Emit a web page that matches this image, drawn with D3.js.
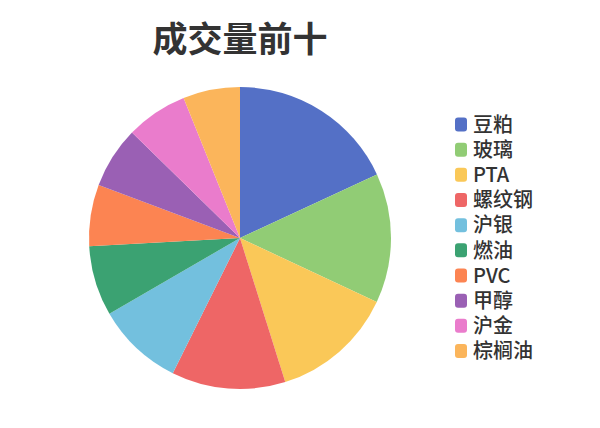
<!DOCTYPE html>
<html>
<head>
<meta charset="utf-8">
<script src="https://cdn.jsdelivr.net/npm/d3@7"></script>
<style>
  body { margin: 0; background: #fff; }
  svg { display: block; font-family: "Noto Sans CJK SC", "Noto Sans", sans-serif; }
</style>
</head>
<body>
<div class="canvas"></div>
<script>
// what to show
var categories = ['豆粕', '玻璃', 'PTA', '螺纹钢', '沪银', '燃油', 'PVC', '甲醇', '沪金', '棕榈油'],
    values = [181, 139, 132, 122, 93, 75, 66, 66, 66, 61],
    colors = ['#5470c6', '#91cc75', '#fac858', '#ee6666', '#73c0de',
              '#3ba272', '#fc8452', '#9a60b4', '#ea7ccc', '#fbb55b'],
    title = '成交量前十';

var width = 600,
    height = 428;

// where does the pie live
var cx = 240,
    cy = 238,
    radius = 151;

var svg = d3.select('.canvas').append('svg')
    .attr('width', width)
    .attr('height', height);

svg.append('text')
    .attr('x', cx)
    .attr('y', 52)
    .attr('text-anchor', 'middle')
    .attr('font-size', 35)
    .attr('font-weight', 'bold')
    .attr('fill', '#333')
    .text(title);

var data = categories.map(function (c, i) {
    return { name: c, value: values[i] };
});

var color = d3.scaleOrdinal().domain(categories).range(colors);

var pie = d3.pie()
    .sort(null)
    .value(function (d) { return d.value; });

var arc = d3.arc()
    .innerRadius(0)
    .outerRadius(radius);

svg.append('g')
    .attr('transform', 'translate(' + cx + ',' + cy + ')')
    .selectAll('path')
    .data(pie(data))
    .enter()
    .append('path')
    .attr('d', arc)
    .attr('fill', function (d) { return color(d.data.name); });

// legend
var rowY = d3.scalePoint()
    .domain(categories)
    .range([124.5, 351]);

var legend = svg.append('g')
    .selectAll('g')
    .data(categories)
    .enter()
    .append('g')
    .attr('transform', function (d) {
        return 'translate(455,' + rowY(d) + ')';
    });

legend.append('rect')
    .attr('x', 0)
    .attr('y', -7)
    .attr('width', 12)
    .attr('height', 14)
    .attr('rx', 3)
    .attr('fill', function (d) { return color(d); });

legend.append('text')
    .attr('x', 18)
    .attr('y', 0)
    .attr('dy', '0.36em')
    .attr('font-size', 20)
    .attr('font-weight', 500)
    .attr('fill', '#333')
    .text(function (d) { return d; });
</script>
</body>
</html>
